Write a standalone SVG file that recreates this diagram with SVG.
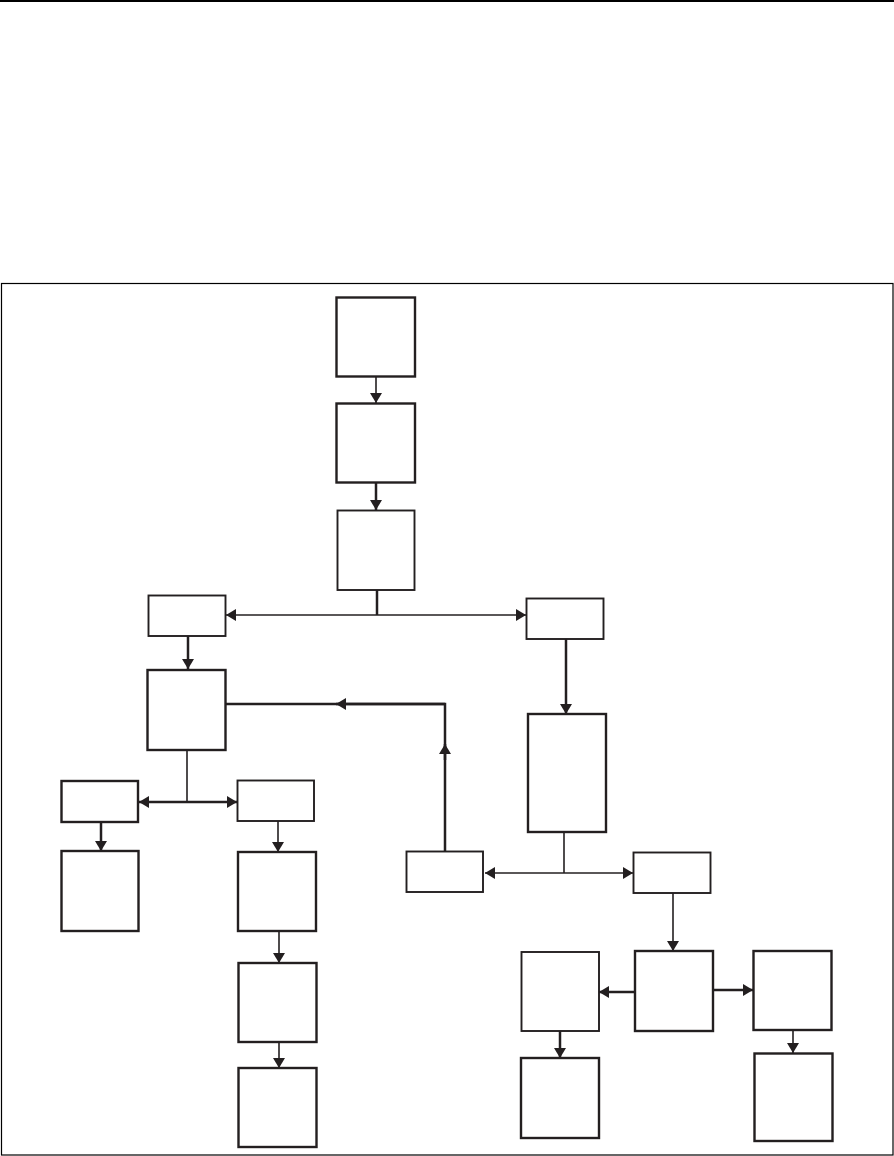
<svg xmlns="http://www.w3.org/2000/svg" width="894" height="1156" viewBox="0 0 894 1156">
<style>
.bx{fill:#fff;stroke:#231f20;stroke-width:2.4}
.tn{fill:#fff;stroke:#231f20;stroke-width:1.9}
.c{fill:none;stroke:#231f20;stroke-width:2.5}
.ct{fill:none;stroke:#231f20;stroke-width:1.6}
.a{marker-end:url(#ah)}
.d{marker-start:url(#ah);marker-end:url(#ah)}
</style>
<defs>
<marker id="ah" markerUnits="userSpaceOnUse" viewBox="0 0 10 12" markerWidth="10" markerHeight="12" refX="10" refY="6" orient="auto-start-reverse">
<path d="M0,0 L10,6 L0,12 z" fill="#231f20"/>
</marker>
</defs>
<rect width="894" height="1156" fill="#fff"/>
<line x1="0" y1="1" x2="894" y2="1" stroke="#000" stroke-width="2"/>
<rect x="1.5" y="283.5" width="891.5" height="871.5" fill="none" stroke="#000" stroke-width="1.2"/>
<g id="connectors">
<line class="ct a" x1="376" y1="377" x2="376" y2="403"/>
<line class="c a" x1="376" y1="482" x2="376" y2="510"/>
<line class="c" x1="377" y1="590" x2="377" y2="615"/>
<line class="ct d" x1="226" y1="615" x2="526" y2="615"/>
<line class="c a" x1="188" y1="636" x2="188" y2="669"/>
<line class="c a" x1="566" y1="639" x2="566" y2="714"/>
<polyline class="c" points="226,704 445,704 445,851"/>
<line class="c a" x1="445" y1="704" x2="336" y2="704"/>
<line class="c a" x1="445" y1="760" x2="445" y2="744"/>
<line class="ct" x1="187" y1="750" x2="187" y2="802"/>
<line class="c d" x1="139" y1="802" x2="237" y2="802"/>
<line class="c a" x1="101" y1="822" x2="101" y2="851"/>
<line class="ct a" x1="278" y1="821" x2="278" y2="852"/>
<line class="ct a" x1="279" y1="931" x2="279" y2="963"/>
<line class="ct a" x1="279" y1="1042" x2="279" y2="1068"/>
<line class="ct" x1="564" y1="832" x2="564" y2="873"/>
<line class="ct d" x1="485" y1="873" x2="633" y2="873"/>
<line class="ct a" x1="673" y1="893" x2="673" y2="951"/>
<line class="c a" x1="635" y1="992" x2="599" y2="992"/>
<line class="c a" x1="713" y1="990" x2="753" y2="990"/>
<line class="c a" x1="560" y1="1031" x2="560" y2="1058"/>
<line class="ct a" x1="793" y1="1030" x2="793" y2="1053"/>
</g>
<g id="b1"><rect class="bx" x="336.5" y="297.5" width="78.5" height="79"/></g>
<g id="b2"><rect class="bx" x="336.5" y="403.5" width="78.5" height="79"/></g>
<g id="b3"><rect class="tn" x="337.5" y="510.5" width="77" height="79.5"/></g>
<g id="l1"><rect class="tn" x="148.5" y="595.5" width="77" height="40.5"/></g>
<g id="r1"><rect class="tn" x="526.5" y="598.5" width="77" height="40.5"/></g>
<g id="l2"><rect class="bx" x="147.5" y="670" width="78" height="80"/></g>
<g id="r2"><rect class="bx" x="528" y="714" width="78" height="118"/></g>
<g id="l3"><rect class="bx" x="61.5" y="781" width="76.5" height="41"/></g>
<g id="l4"><rect class="tn" x="237.5" y="780.5" width="76.5" height="40.5"/></g>
<g id="l5"><rect class="bx" x="61.5" y="851" width="77" height="80"/></g>
<g id="l6"><rect class="bx" x="238" y="852" width="78" height="79"/></g>
<g id="l7"><rect class="bx" x="238.5" y="963" width="78" height="79"/></g>
<g id="l8"><rect class="bx" x="238.5" y="1068" width="78" height="79"/></g>
<g id="m1"><rect class="tn" x="406.5" y="851.5" width="76.5" height="40.5"/></g>
<g id="m2"><rect class="tn" x="633.5" y="852.5" width="77" height="40.5"/></g>
<g id="c"><rect class="bx" x="635" y="951" width="78" height="80"/></g>
<g id="d"><rect class="tn" x="521.5" y="952" width="77.5" height="79"/></g>
<g id="e"><rect class="bx" x="753.5" y="951" width="78" height="79"/></g>
<g id="f"><rect class="bx" x="521" y="1058" width="78" height="80"/></g>
<g id="g"><rect class="bx" x="754.5" y="1053.5" width="78" height="87.5"/></g>
</svg>
